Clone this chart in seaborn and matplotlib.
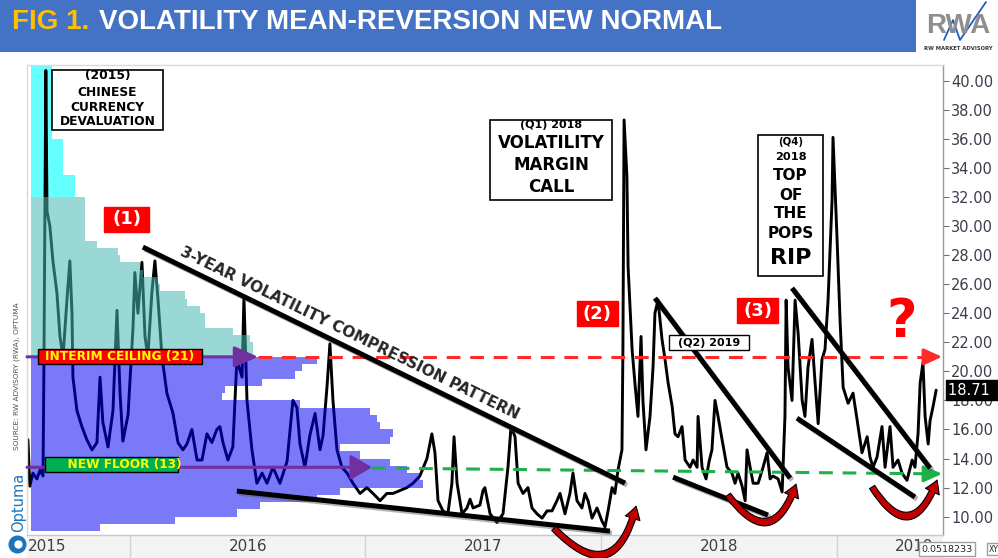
import numpy as np
import pandas as pd
import seaborn as sns
import matplotlib.pyplot as plt
import matplotlib.patheffects as pe
from matplotlib.patches import Rectangle, FancyArrowPatch
from matplotlib.lines import Line2D
from matplotlib.transforms import blended_transform_factory

# VIX close (decimal year, value)
t_2015 = [2015.567, 2015.575, 2015.588, 2015.605, 2015.618, 2015.631, 2015.635, 2015.643, 2015.648, 2015.660,
          2015.673, 2015.690, 2015.703, 2015.716, 2015.733, 2015.745, 2015.754, 2015.758, 2015.775, 2015.796,
          2015.817, 2015.839, 2015.860, 2015.873, 2015.885, 2015.907, 2015.928, 2015.945, 2015.958, 2015.970,
          2015.992]
v_2015 = [15.3, 12.1, 13.0, 12.6, 13.2, 12.8, 20.8, 40.7, 31.0, 30.0,
          27.6, 25.4, 22.4, 21.0, 25.0, 27.6, 24.0, 19.6, 17.3, 16.2,
          15.3, 14.6, 15.1, 19.6, 16.5, 14.8, 17.3, 24.2, 18.5, 15.2,
          17.0]

t_2016 = [2016.013, 2016.021, 2016.034, 2016.051, 2016.064, 2016.076, 2016.093, 2016.106, 2016.119, 2016.136,
          2016.157, 2016.183, 2016.204, 2016.225, 2016.242, 2016.263, 2016.285, 2016.306, 2016.327, 2016.348,
          2016.369, 2016.382, 2016.395, 2016.416, 2016.437, 2016.454, 2016.476, 2016.484, 2016.493, 2016.497,
          2016.518, 2016.539, 2016.561, 2016.582, 2016.607, 2016.637, 2016.667, 2016.692, 2016.709, 2016.722,
          2016.743, 2016.764, 2016.786, 2016.807, 2016.820, 2016.837, 2016.849, 2016.862, 2016.879, 2016.900,
          2016.922, 2016.947, 2016.977]
v_2016 = [23.0, 26.8, 24.0, 27.5, 22.4, 21.0, 25.4, 27.6, 25.0, 21.0,
          18.5, 17.1, 15.1, 14.6, 15.0, 16.0, 13.9, 13.9, 15.7, 15.1,
          16.0, 16.2, 15.1, 13.9, 14.8, 20.8, 19.6, 25.1, 20.0, 18.0,
          14.6, 12.3, 13.0, 12.3, 13.4, 12.3, 13.8, 18.0, 17.5, 15.0,
          13.4, 15.6, 17.1, 14.6, 15.6, 19.0, 21.9, 18.0, 14.6, 13.4,
          13.0, 12.3, 11.6]

t_2017 = [2017.006, 2017.032, 2017.062, 2017.091, 2017.117, 2017.147, 2017.176, 2017.202, 2017.231, 2017.261,
          2017.282, 2017.295, 2017.308, 2017.329, 2017.350, 2017.367, 2017.376, 2017.389, 2017.410, 2017.431,
          2017.444, 2017.457, 2017.486, 2017.499, 2017.507, 2017.529, 2017.558, 2017.584, 2017.605, 2017.618,
          2017.635, 2017.648, 2017.669, 2017.690, 2017.707, 2017.728, 2017.750, 2017.771, 2017.792, 2017.813,
          2017.826, 2017.847, 2017.868, 2017.881, 2017.898, 2017.919, 2017.932, 2017.945, 2017.962, 2017.983]
v_2017 = [12.0, 11.6, 11.1, 11.6, 11.6, 11.8, 12.0, 12.3, 12.8, 14.0,
          15.7, 14.4, 11.1, 10.4, 10.2, 12.3, 15.5, 12.3, 10.2, 10.6,
          11.2, 10.6, 10.8, 11.8, 12.0, 10.2, 9.6, 10.2, 13.4, 16.2,
          15.5, 12.3, 11.6, 12.0, 10.6, 10.2, 9.9, 10.4, 10.4, 11.1,
          11.6, 10.2, 11.6, 13.0, 11.1, 10.6, 11.6, 11.1, 9.9, 10.6]

t_2018 = [2018.004, 2018.017, 2018.030, 2018.047, 2018.059, 2018.072, 2018.089, 2018.093, 2018.098, 2018.110,
          2018.115, 2018.132, 2018.144, 2018.157, 2018.170, 2018.178, 2018.191, 2018.208, 2018.221, 2018.229,
          2018.242, 2018.259, 2018.272, 2018.285, 2018.302, 2018.314, 2018.327, 2018.344, 2018.357, 2018.378,
          2018.391, 2018.408, 2018.412, 2018.429, 2018.446, 2018.459, 2018.471, 2018.484, 2018.497, 2018.514,
          2018.535, 2018.556, 2018.569, 2018.582, 2018.599, 2018.612, 2018.620, 2018.633, 2018.646, 2018.667,
          2018.688, 2018.705, 2018.718, 2018.730, 2018.752, 2018.769, 2018.781, 2018.786, 2018.794, 2018.811,
          2018.824, 2018.837, 2018.854, 2018.866, 2018.879, 2018.896, 2018.909, 2018.922, 2018.938, 2018.951,
          2018.964, 2018.981, 2018.985]
v_2018 = [9.7, 9.3, 10.4, 12.0, 11.6, 13.2, 14.6, 21.5, 37.3, 33.4,
          27.2, 21.5, 19.2, 16.9, 22.4, 18.0, 14.6, 16.9, 20.3, 24.0,
          24.9, 22.2, 20.8, 19.2, 17.6, 15.7, 15.5, 16.2, 13.9, 13.4,
          13.9, 13.4, 16.9, 13.4, 12.6, 13.8, 14.6, 18.0, 16.9, 15.3,
          13.4, 13.0, 12.3, 13.0, 12.1, 11.1, 14.6, 13.4, 12.3, 12.3,
          13.4, 14.4, 12.6, 12.8, 12.6, 11.7, 16.9, 24.9, 20.3, 18.0,
          24.9, 22.6, 18.0, 16.9, 20.3, 22.2, 19.2, 16.4, 20.8, 21.5,
          24.9, 31.8, 36.1]

t_2019 = [2019.002, 2019.015, 2019.028, 2019.049, 2019.070, 2019.087, 2019.108, 2019.130, 2019.142, 2019.155,
          2019.172, 2019.193, 2019.206, 2019.227, 2019.240, 2019.261, 2019.278, 2019.299, 2019.321, 2019.333,
          2019.346, 2019.355, 2019.367, 2019.376, 2019.389, 2019.397, 2019.410, 2019.423]
v_2019 = [29.2, 23.5, 18.9, 17.8, 18.5, 16.7, 14.4, 15.5, 14.1, 13.4,
          14.1, 16.2, 13.4, 16.2, 13.4, 13.9, 13.0, 12.5, 13.9, 13.4,
          15.7, 19.2, 20.6, 16.9, 15.0, 16.6, 17.6, 18.71]

# time-at-level profile on the left (bins of 0.5 from 9.0 up, length in years)
hist_levels = np.arange(9.0, 41.0, 0.5)
hist_length = [0.293, 0.611, 0.875, 0.972, 1.214, 1.312, 1.665, 1.652, 1.597, 1.524,
               1.397, 1.312, 1.524, 1.537, 1.482, 1.469, 1.439, 1.142, 0.811, 0.824,
               0.981, 1.121, 1.151, 1.214, 0.943, 0.943, 0.930, 0.858, 0.739, 0.739,
               0.718, 0.662, 0.654, 0.548, 0.539, 0.476, 0.463, 0.378, 0.369, 0.280,
               0.229, 0.229, 0.229, 0.229, 0.229, 0.229, 0.187, 0.187, 0.187, 0.136,
               0.136, 0.136, 0.136, 0.136, 0.089, 0.089, 0.089, 0.089, 0.089, 0.089,
               0.089, 0.089, 0.089, 0.089]
hist_start = 2015.580

ceiling = 21.0
floor_left, floor_right = 13.4, 12.95
last_close = 18.71
year_labels = ['2016', '2017', '2018']

vix = pd.DataFrame({
    'year': t_2015 + t_2016 + t_2017 + t_2018 + t_2019,
    'vix': v_2015 + v_2016 + v_2017 + v_2018 + v_2019,
})

sns.set_theme(style='white')
plt.rcParams['font.family'] = ['DejaVu Sans']
HEAD = ['Liberation Sans', 'DejaVu Sans']

fig = plt.figure(figsize=(9.98, 5.58), dpi=100)
ax = fig.add_axes([27 / 998, 23 / 558, 916 / 998, 470 / 558])

# header band + title
fig.add_artist(Rectangle((0, 1 - 52 / 558), 916 / 998, 52 / 558, transform=fig.transFigure,
                         fc='#4472C4', ec='none', zorder=-5))
fig.text(12 / 998, 1 - 22 / 558, 'FIG 1.', color='#FFC000', fontsize=20, weight='bold',
         family=HEAD, va='center')
fig.text(99 / 998, 1 - 22 / 558, 'VOLATILITY MEAN-REVERSION NEW NORMAL', color='white',
         fontsize=20, weight='bold', family=HEAD, va='center')
# logo
fig.text(958 / 998, 1 - 26 / 558, 'RWA', color='#8E8E8E', fontsize=20, weight='bold',
         family=HEAD, ha='center', va='center')
fig.add_artist(Line2D([944 / 998, 953 / 998, 960 / 998, 986 / 998],
                      [1 - 40 / 558, 1 - 20 / 558, 1 - 40 / 558, 1 - 2 / 558],
                      transform=fig.transFigure, color='#1F5FBF', lw=1.3))
fig.text(958 / 998, 1 - 48 / 558, 'RW MARKET ADVISORY', color='#333333', fontsize=3.8,
         weight='bold', ha='center', va='center')

# bottom date band
fig.add_artist(Rectangle((27 / 998, 0), 916 / 998, 23 / 558, transform=fig.transFigure,
                         fc='#F3F3F3', ec='none', zorder=-5))

# source / optuma
fig.text(17 / 998, 1 - 376 / 558, 'SOURCE: RW ADVISORY (RWA), OPTUMA', rotation=90,
         fontsize=5.3, color='#505050', ha='center', va='center')
fig.text(19 / 998, 1 - 502 / 558, 'Optuma', rotation=90, fontsize=10.5, color='#1B75BC',
         ha='center', va='center')
fig.add_artist(Line2D([17 / 998], [1 - 544 / 558], transform=fig.transFigure, marker='o',
                      ms=12, color='#1B75BC', mec='#1B75BC'))
fig.add_artist(Line2D([18 / 998], [1 - 544 / 558], transform=fig.transFigure, marker='o',
                      ms=5, color='white', mec='white'))

# volume profile: the top (cyan) block sits under the line, the rest over it
for lo, hi, col, z in [(32, 99, (0.0, 1.0, 1.0, 0.6), 1),
                       (ceiling, 32, (70 / 255, 185 / 255, 180 / 255, 0.55), 3),
                       (0, ceiling, (0.0, 0.0, 245 / 255, 0.52), 3)]:
    sel = [i for i, lv in enumerate(hist_levels) if lo <= lv < hi]
    ax.barh([hist_levels[i] for i in sel], [hist_length[i] for i in sel], height=0.5,
            left=hist_start, align='edge', color=col, linewidth=0, zorder=z)

# VIX line
sns.lineplot(data=vix, x='year', y='vix', color='black', linewidth=2.1, ax=ax,
             estimator=None, sort=False, legend=False, zorder=2)

ax.set_xlim(2015.563, 2019.452)
ax.set_ylim(8.74, 41.08)
ax.set_xlabel('')
ax.set_ylabel('')
ax.yaxis.tick_right()
ax.set_yticks(range(10, 41, 2))
ax.set_yticklabels([f'{v:.2f}' for v in range(10, 41, 2)])
ax.tick_params(axis='y', right=True, left=False, length=4, width=0.8, color='#707070',
               labelsize=10.5, labelcolor='#3C3C4C', pad=2)
ax.set_xticks([2016, 2017, 2018, 2019])
ax.set_xticklabels([])
ax.tick_params(axis='x', bottom=True, length=16.5, width=1, color='#D3D3D3', direction='out')
for side, col in [('top', '#DADADA'), ('left', '#DADADA'), ('bottom', '#C8C8C8'), ('right', '#9A9A9A')]:
    ax.spines[side].set_color(col)
    ax.spines[side].set_linewidth(1)

band = blended_transform_factory(ax.transData, ax.transAxes)
ax.text(2015.567, -0.025, '2015', transform=band, ha='left', va='center', fontsize=11,
        color='#404040', clip_on=False)
for i, lab in enumerate(year_labels):
    ax.text(2016.5 + i, -0.025, lab, transform=band, ha='center', va='center', fontsize=11,
            color='#404040', clip_on=False)
ax.text(2019.33, -0.025, '2019', transform=band, ha='center', va='center', fontsize=11,
        color='#404040', clip_on=False)
fig.text(921 / 998, 1 - 549 / 558, '0.0518233', fontsize=6.8, color='#222222', va='center',
         bbox=dict(fc='white', ec='#A0A0A0', boxstyle='square,pad=0.25'))
fig.text(989 / 998, 1 - 549 / 558, 'XY', fontsize=5.5, color='#222222', va='center',
         bbox=dict(fc='white', ec='#A0A0A0', boxstyle='square,pad=0.25'))

# last value tag
right = blended_transform_factory(ax.transAxes, ax.transData)
ax.text(1.006, last_close, f'{last_close:.2f}  ', transform=right, color='white', fontsize=10.5,
        ha='left', va='center', clip_on=False, zorder=10,
        bbox=dict(fc='black', ec='black', boxstyle='square,pad=0.15'))


# ceiling / floor guides
def head(x0, x1, y0, y1, color, size):
    ax.annotate('', xy=(x1, y1), xytext=(x0, y0), zorder=6,
                arrowprops=dict(arrowstyle=f'-|>,head_length={size[0]},head_width={size[1]}',
                                color=color, lw=2.2, mutation_scale=20, shrinkA=0, shrinkB=0))


PURPLE = '#7030A0'
head(2015.563, 2016.544, ceiling, ceiling, PURPLE, (0.72, 0.32))
ax.plot([2016.544, 2019.40], [ceiling, ceiling], color='#FF2A2A', lw=2.2,
        ls=(0, (4.5, 3.2)), zorder=5)
head(2019.38, 2019.448, ceiling, ceiling, '#FF2A2A', (0.55, 0.25))

head(2015.563, 2017.028, floor_left, floor_left, PURPLE, (0.65, 0.38))
ax.plot([2017.028, 2019.40], [floor_left - 0.05, floor_right], color='#1DB04B', lw=2.2,
        ls=(0, (4.5, 3.2)), zorder=5)
head(2019.38, 2019.448, floor_right, floor_right, '#1DB04B', (0.55, 0.25))


def tag(x0, x1, ytop, ybot, text, fc, tc, size, ec='black'):
    ax.add_patch(Rectangle((x0, ybot), x1 - x0, ytop - ybot, fc=fc, ec=ec, lw=1.0, zorder=8))
    ax.text((x0 + x1) / 2, (ytop + ybot) / 2, text, color=tc, fontsize=size, weight='bold',
            ha='center', va='center', zorder=9)


tag(2015.609, 2016.306, 21.54, 20.50, 'INTERIM CEILING (21)', '#FF0000', '#FFFF00', 8.8)
tag(2015.639, 2016.204, 14.10, 13.07, '      NEW FLOOR (13)', '#00B050', '#FFFF00', 8.7)
tag(2015.890, 2016.081, 31.31, 29.59, '(1)', '#FF0000', 'white', 13, ec='#FF0000')
tag(2017.898, 2018.072, 24.84, 23.12, '(2)', '#FF0000', 'white', 13, ec='#FF0000')
tag(2018.578, 2018.752, 25.04, 23.32, '(3)', '#FF0000', 'white', 13, ec='#FF0000')
tag(2018.289, 2018.628, 22.50, 21.47, '(Q2) 2019', 'white', 'black', 8)


def note(x0, x1, ytop, ybot, lines):
    ax.add_patch(Rectangle((x0, ybot), x1 - x0, ytop - ybot, fc='white', ec='black', lw=1.2,
                           zorder=8))
    for txt, yy, size in lines:
        ax.text((x0 + x1) / 2, yy, txt, fontsize=size, weight='bold', ha='center', va='center',
                color='black', zorder=9)


note(2015.669, 2016.140, 40.74, 36.60,
     [('(2015)', 40.39, 8.8), ('CHINESE', 39.22, 8.8), ('CURRENCY', 38.19, 8.8),
      ('DEVALUATION', 37.16, 8.8)])
note(2017.529, 2018.047, 37.30, 31.79,
     [('(Q1) 2018', 36.95, 8), ('VOLATILITY', 35.71, 12), ('MARGIN', 34.20, 12),
      ('CALL', 32.68, 12)])
note(2018.667, 2018.943, 36.26, 26.56,
     [('(Q4)', 35.78, 7.3), ('2018', 34.75, 8.2), ('TOP', 33.51, 11), ('OF', 32.13, 11),
      ('THE', 30.89, 11), ('POPS', 29.52, 11), ('RIP', 27.80, 16)])

ax.text(2019.278, 23.39, '?', color='#FF0000', fontsize=38, weight='bold', ha='center',
        va='center', zorder=9)

# trend lines
trend_lines = [
    ((2016.055, 28.55), (2018.102, 12.31)),
    ((2016.454, 11.76), (2018.038, 9.01)),
    ((2018.229, 25.04), (2018.803, 12.65)),
    ((2018.306, 12.72), (2018.709, 10.11)),
    ((2018.811, 25.73), (2019.397, 13.34)),
    ((2018.832, 16.78), (2019.333, 11.35)),
]
shadow = [pe.SimpleLineShadow(offset=(1.5, -1.5), shadow_color='#555555', alpha=0.45), pe.Normal()]
for (xa, ya), (xb, yb) in trend_lines:
    ax.plot([xa, xb], [ya, yb], color='black', lw=3.6, solid_capstyle='butt', zorder=7,
            path_effects=shadow)

ax.text(2016.934, 22.62, '3-YEAR VOLATILITY COMPRESSION PATTERN', rotation=-26,
        rotation_mode='anchor', fontsize=11, weight='bold', ha='center', va='center', zorder=9)

# U-turn arrows
swooshes = [((2017.800, 9.20), (2018.149, 10.72), 0.9),
            ((2018.539, 11.49), (2018.828, 12.24), 0.95),
            ((2019.151, 12.04), (2019.427, 12.52), 1.0)]
for a, b, rad in swooshes:
    arr = FancyArrowPatch(a, b, connectionstyle=f'arc3,rad={rad}',
                          arrowstyle='simple,head_width=0.55,head_length=0.45,tail_width=0.22',
                          mutation_scale=20, fc='#C00000', ec='black', lw=0.8, zorder=9,
                          clip_on=False, shrinkA=0, shrinkB=0)
    ax.add_patch(arr)

fig.savefig('out.png', dpi=100)
